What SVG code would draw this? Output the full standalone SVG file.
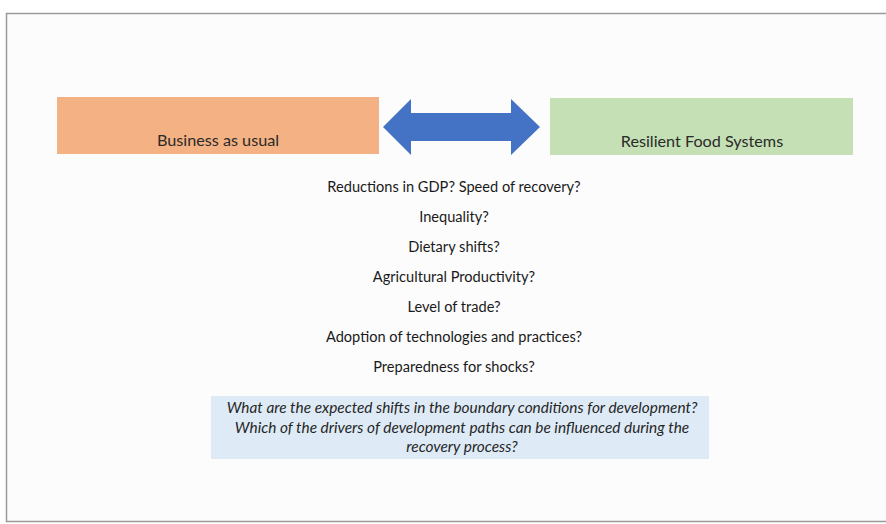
<svg xmlns="http://www.w3.org/2000/svg" width="886" height="524" viewBox="0 0 886 524">
<style>
.t{font-family:Lato,"Open Sans","Liberation Sans",sans-serif;font-size:14.6px;fill:#1a1a1a;text-anchor:middle}
.q{font-family:Lato,"Open Sans","Liberation Sans",sans-serif;font-size:15.4px;font-style:italic;fill:#262626;text-anchor:middle}
.lbl{font-family:Lato,"Open Sans","Liberation Sans",sans-serif;font-size:16.2px;fill:#2a2a2a;text-anchor:middle}
</style>
<rect width="886" height="524" fill="#ffffff"/>
<rect x="6.5" y="13.5" width="890" height="508" fill="#fcfcfc" stroke="#9a9a9a" stroke-width="1.5"/>
<g id="bau">
<rect x="57" y="97" width="322" height="57" fill="#f4b183"/>
<text class="lbl" x="218" y="146">Business as usual</text>
</g>
<g id="rfs">
<rect x="550" y="98" width="303" height="57" fill="#c5e0b4"/>
<text class="lbl" x="702" y="147">Resilient Food Systems</text>
</g>
<g id="connectors">
<polygon points="383,127 411,99 411,113 511,113 511,99 540,127 511,155 511,141 411,141 411,155" fill="#4472c4"/>
</g>
<g id="drivers">
<text class="t" x="454" y="192">Reductions in GDP? Speed of recovery?</text>
<text class="t" x="454" y="222">Inequality?</text>
<text class="t" x="454" y="252">Dietary shifts?</text>
<text class="t" x="454" y="282">Agricultural Productivity?</text>
<text class="t" x="454" y="312">Level of trade?</text>
<text class="t" x="454" y="342">Adoption of technologies and practices?</text>
<text class="t" x="454" y="372">Preparedness for shocks?</text>
</g>
<g id="questions">
<rect x="211" y="396" width="498" height="63" fill="#deebf7"/>
<text class="q" x="462" y="413">What are the expected shifts in the boundary conditions for development?</text>
<text class="q" x="462" y="433">Which of the drivers of development paths can be influenced during the</text>
<text class="q" x="462" y="452">recovery process?</text>
</g>
</svg>
